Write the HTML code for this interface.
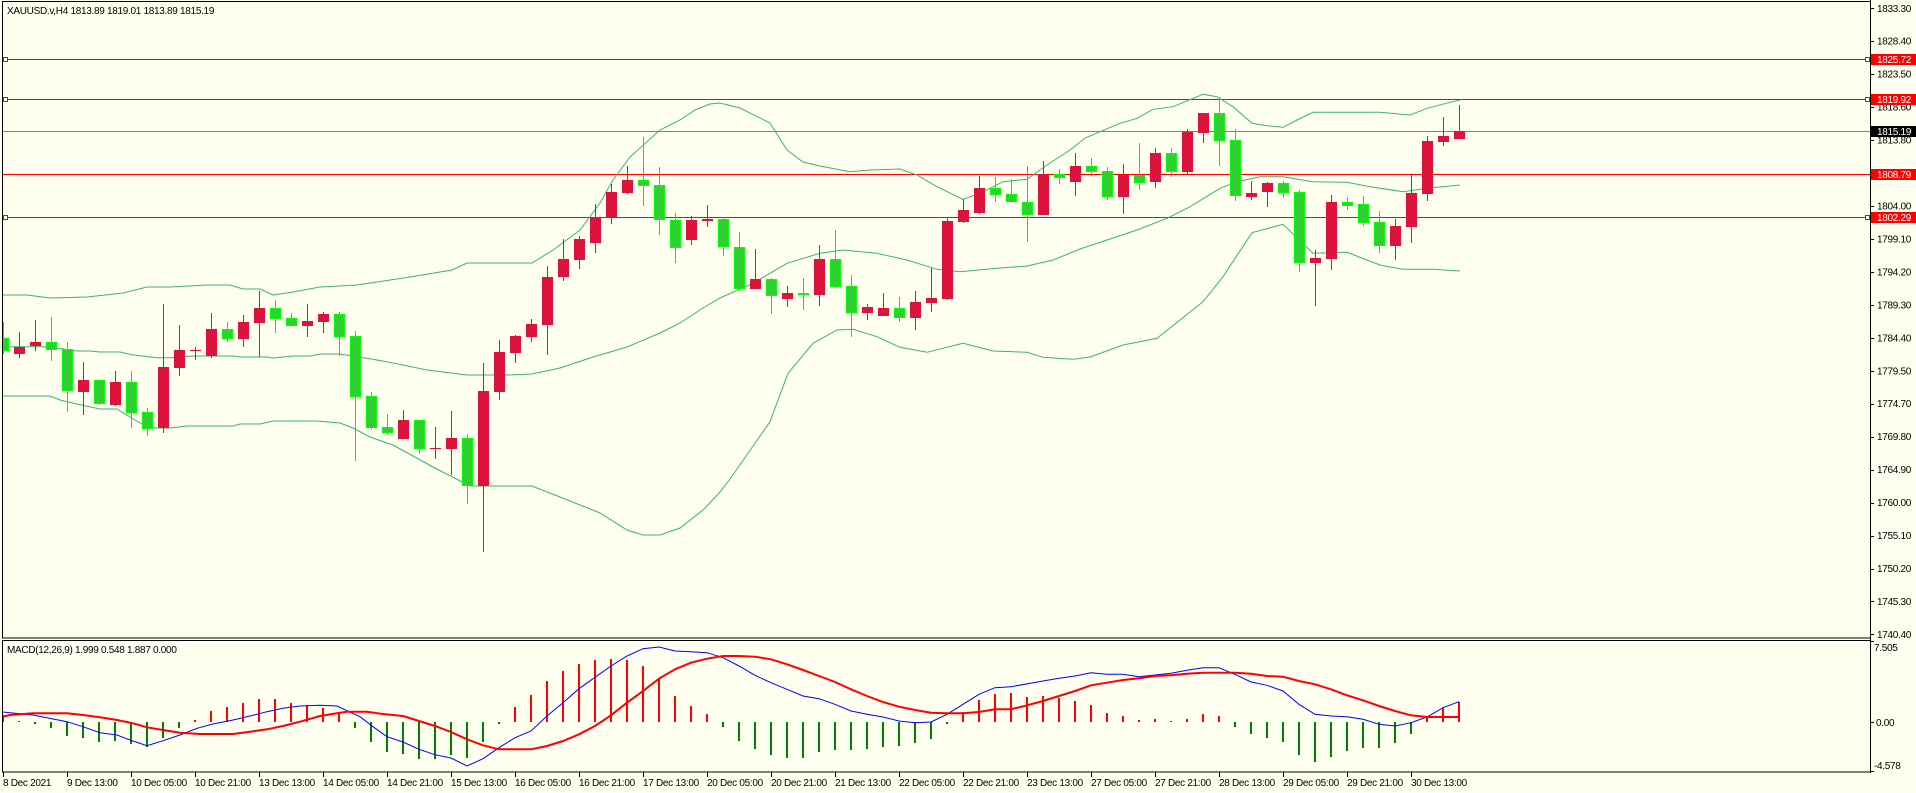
<!DOCTYPE html>
<html><head><meta charset="utf-8"><style>
html,body{margin:0;padding:0;background:#FFFFF0;}
svg{display:block;}
text{font-family:"Liberation Sans",sans-serif;font-size:10px;letter-spacing:-0.3px;fill:#000;}
</style></head><body>
<svg width="1916" height="793" viewBox="0 0 1916 793" xmlns="http://www.w3.org/2000/svg">
<defs>
<clipPath id="cm"><rect x="3" y="2" width="1867" height="636"/></clipPath>
<clipPath id="cd"><rect x="3" y="641" width="1867" height="131"/></clipPath>
</defs>
<rect width="1916" height="793" fill="#FFFFF0"/>
<g clip-path="url(#cm)">
<!-- horizontal lines -->
<g stroke="#FF0000" stroke-width="1" fill="none">
<line x1="3" y1="59.5" x2="1870" y2="59.5"/>
<line x1="3" y1="99.5" x2="1870" y2="99.5"/>
<line x1="3" y1="174.5" x2="1870" y2="174.5"/>
<line x1="3" y1="217.5" x2="1870" y2="217.5"/>
<rect x="3.5" y="57.5" width="4" height="4" fill="#FFFFF0"/>
<rect x="3.5" y="97.5" width="4" height="4" fill="#FFFFF0"/>
<rect x="3.5" y="215.5" width="4" height="4" fill="#FFFFF0"/>
<rect x="1865.5" y="57.5" width="4" height="4" fill="#FFFFF0"/>
<rect x="1865.5" y="97.5" width="4" height="4" fill="#FFFFF0"/>
<rect x="1865.5" y="215.5" width="4" height="4" fill="#FFFFF0"/>
</g>
<line x1="3" y1="131.5" x2="1870" y2="131.5" stroke="#808080" stroke-width="1"/>
<!-- Bollinger bands -->
<g stroke="#3CB371" stroke-width="1" fill="none">
<polyline points="0,295 27,295 50,298 87,297 123,293 147,287 170,287 207,285 230,285 243,289 260,289 273,295 293,292 320,287 357,285 370,283 410,277 452,270 467,263 532,263 553,250 580,230 600,203 613,180 630,157 660,130 680,120 695,110 710,104 720,103 740,108 770,123 787,150 803,162 820,166 850,171.7 870,170 900,169 917,175 937,186.7 963,199.3 980,193.3 1003,181.7 1027,179.3 1047,165 1070,150 1085,138 1100,131.7 1120,123.3 1137,118.3 1153,109.3 1173,106.7 1203,94.3 1217,96.7 1233,106.7 1252,123.3 1267,125.7 1283,127.3 1297,120 1313,112.3 1357,112.3 1380,112.3 1410,115 1427,108.3 1450,102.3 1460,100"/>
<polyline points="0,346.7 43,346.7 57,348 77,351 90,351 100,352 120,352 133,355 157,357.7 170,357.7 193,356 233,356 240,357 267,357 273,358 293,356 310,356 320,354 340,354 353,356 370,358.7 393,363 427,370 467,375 507,375 532,374 560,368 593,357 627,347 660,333 680,323 703,308 720,298 753,283.3 787,263.3 820,253.3 843,250 877,253.3 907,260 937,269.3 960,271.7 997,268.3 1027,266 1053,260 1080,249 1137,230 1167,218.3 1190,206.7 1220,188.3 1237,181.7 1260,176.7 1283,176.7 1313,181.7 1347,182.3 1370,186.7 1403,191.7 1427,188.3 1450,186 1460,185"/>
<polyline points="0,396 50,396 60,400 77,404 100,409 117,409 130,417 147,427 157,428 170,428 187,426 233,426 240,424 260,424 273,421 317,421 340,423 353,428 370,437 393,445 433,467 470,486 532,486 560,497 600,513 627,530 643,535 660,535 680,528 703,510 720,492 730,479 770,421.7 788,373.3 813,343.3 837,330 853,329.3 877,336.7 900,347.3 927,352.3 963,343.3 993,351 1027,352.3 1043,357.3 1073,359.3 1090,357 1123,345 1157,338.3 1203,301.7 1223,276.7 1252,232.7 1283,224.3 1313,253.3 1347,252.3 1380,265 1403,269.3 1433,269.3 1460,271"/>
</g>
<!-- red wicks -->
<path stroke="#DC143C" stroke-width="1" fill="none" d="M19.5 332V358M35.5 320V351M83.5 362V415M115.5 371V406M163.5 304V433M179.5 325V376M195.5 347V360M211.5 313V358M243.5 315V347M259.5 291V357M307.5 304V337M323.5 312V333M403.5 410V439M435.5 427V459M451.5 411V475M483.5 363V552M499.5 340V400M515.5 335V363M531.5 319V342M547.5 266V355M563.5 239V281M579.5 236V269M595.5 204V253M611.5 184V224M627.5 166V194M691.5 216V245M707.5 205V227M755.5 249V289M787.5 286V307M819.5 245V306M867.5 304V320M883.5 293V316M915.5 291V330M931.5 268V312M947.5 217V300M963.5 199V223M979.5 176V214M1043.5 161V215M1075.5 153V196M1123.5 164V214M1155.5 148V188M1187.5 129V174M1203.5 113V143M1251.5 181V200M1267.5 182V207M1315.5 250V306M1331.5 195V270M1395.5 219V260M1411.5 175V243M1427.5 136V201M1443.5 117V146M1459.5 105V139"/>
<!-- green wicks -->
<path stroke="#22DD22" stroke-width="1" fill="none" d="M3.5 322V354M51.5 317V361M67.5 342V412M99.5 380V405M131.5 371V428M147.5 408V436M227.5 322V342M275.5 300V333M291.5 313V327M339.5 312V356M355.5 331V461M371.5 392V430M387.5 414V435M419.5 420V454M467.5 434V504M643.5 137V206M659.5 167V235M675.5 213V263M723.5 217V256M739.5 232V291M771.5 278V314M803.5 278V310M835.5 230V288M851.5 275V337M899.5 297V322M995.5 177V202M1011.5 179V203M1027.5 166V242M1059.5 169V184M1091.5 158V176M1107.5 167V200M1139.5 143V190M1171.5 148V177M1219.5 97V166M1235.5 129V201M1283.5 181V198M1299.5 190V272M1347.5 197V210M1363.5 196V226M1379.5 211V253"/>
<!-- red bodies -->
<g fill="#DC143C">
<rect x="14" y="347" width="11" height="7"/>
<rect x="30" y="342" width="11" height="4"/>
<rect x="78" y="380" width="11" height="12"/>
<rect x="110" y="382" width="11" height="23"/>
<rect x="158" y="367" width="11" height="61"/>
<rect x="174" y="350" width="11" height="18"/>
<rect x="190" y="350" width="11" height="1"/>
<rect x="206" y="329" width="11" height="27"/>
<rect x="238" y="322" width="11" height="17"/>
<rect x="254" y="308" width="11" height="15"/>
<rect x="302" y="321" width="11" height="5"/>
<rect x="318" y="314" width="11" height="8"/>
<rect x="398" y="420" width="11" height="19"/>
<rect x="430" y="448" width="11" height="1"/>
<rect x="446" y="438" width="11" height="11"/>
<rect x="478" y="391" width="11" height="95"/>
<rect x="494" y="352" width="11" height="40"/>
<rect x="510" y="336" width="11" height="17"/>
<rect x="526" y="324" width="11" height="13"/>
<rect x="542" y="277" width="11" height="48"/>
<rect x="558" y="259" width="11" height="18"/>
<rect x="574" y="239" width="11" height="21"/>
<rect x="590" y="217" width="11" height="26"/>
<rect x="606" y="192" width="11" height="26"/>
<rect x="622" y="180" width="11" height="13"/>
<rect x="686" y="220" width="11" height="20"/>
<rect x="702" y="219" width="11" height="2"/>
<rect x="750" y="279" width="11" height="10"/>
<rect x="782" y="293" width="11" height="6"/>
<rect x="814" y="259" width="11" height="36"/>
<rect x="862" y="307" width="11" height="6"/>
<rect x="878" y="308" width="11" height="8"/>
<rect x="910" y="302" width="11" height="16"/>
<rect x="926" y="298" width="11" height="5"/>
<rect x="942" y="221" width="11" height="78"/>
<rect x="958" y="210" width="11" height="12"/>
<rect x="974" y="188" width="11" height="25"/>
<rect x="1038" y="174" width="11" height="41"/>
<rect x="1070" y="166" width="11" height="16"/>
<rect x="1118" y="175" width="11" height="22"/>
<rect x="1150" y="153" width="11" height="29"/>
<rect x="1182" y="132" width="11" height="40"/>
<rect x="1198" y="113" width="11" height="20"/>
<rect x="1246" y="193" width="11" height="4"/>
<rect x="1262" y="183" width="11" height="9"/>
<rect x="1310" y="258" width="11" height="5"/>
<rect x="1326" y="202" width="11" height="57"/>
<rect x="1390" y="226" width="11" height="20"/>
<rect x="1406" y="193" width="11" height="34"/>
<rect x="1422" y="141" width="11" height="53"/>
<rect x="1438" y="136" width="11" height="6"/>
<rect x="1454" y="131" width="11" height="8"/>
</g>
<!-- green bodies -->
<g fill="#32CD32" stroke="#00FF00" stroke-width="1">
<rect x="-1.5" y="338.5" width="10" height="12"/>
<rect x="46.5" y="342.5" width="10" height="7"/>
<rect x="62.5" y="349.5" width="10" height="41"/>
<rect x="94.5" y="380.5" width="10" height="23"/>
<rect x="126.5" y="382.5" width="10" height="30"/>
<rect x="142.5" y="412.5" width="10" height="16"/>
<rect x="222.5" y="329.5" width="10" height="9"/>
<rect x="270.5" y="308.5" width="10" height="10"/>
<rect x="286.5" y="318.5" width="10" height="7"/>
<rect x="334.5" y="314.5" width="10" height="22"/>
<rect x="350.5" y="336.5" width="10" height="60"/>
<rect x="366.5" y="396.5" width="10" height="31"/>
<rect x="382.5" y="427.5" width="10" height="5"/>
<rect x="414.5" y="420.5" width="10" height="28"/>
<rect x="462.5" y="438.5" width="10" height="47"/>
<rect x="638.5" y="180.5" width="10" height="5"/>
<rect x="654.5" y="185.5" width="10" height="34"/>
<rect x="670.5" y="220.5" width="10" height="27"/>
<rect x="718.5" y="219.5" width="10" height="27"/>
<rect x="734.5" y="247.5" width="10" height="41"/>
<rect x="766.5" y="279.5" width="10" height="16"/>
<rect x="798.5" y="293.5" width="10" height="1"/>
<rect x="830.5" y="259.5" width="10" height="27"/>
<rect x="846.5" y="286.5" width="10" height="26"/>
<rect x="894.5" y="308.5" width="10" height="9"/>
<rect x="990.5" y="188.5" width="10" height="6"/>
<rect x="1006.5" y="194.5" width="10" height="7"/>
<rect x="1022.5" y="202.5" width="10" height="12"/>
<rect x="1054.5" y="174.5" width="10" height="3"/>
<rect x="1086.5" y="166.5" width="10" height="5"/>
<rect x="1102.5" y="171.5" width="10" height="25"/>
<rect x="1134.5" y="175.5" width="10" height="7"/>
<rect x="1166.5" y="153.5" width="10" height="18"/>
<rect x="1214.5" y="113.5" width="10" height="27"/>
<rect x="1230.5" y="140.5" width="10" height="55"/>
<rect x="1278.5" y="183.5" width="10" height="9"/>
<rect x="1294.5" y="192.5" width="10" height="70"/>
<rect x="1342.5" y="202.5" width="10" height="3"/>
<rect x="1358.5" y="204.5" width="10" height="18"/>
<rect x="1374.5" y="222.5" width="10" height="23"/>
</g>
</g>
<!-- MACD -->
<g clip-path="url(#cd)">
<path stroke="#FF0000" stroke-width="2" fill="none" d="M3 722V715M19 722V721M195 722V720M211 722V711M227 722V707M243 722V703M259 722V699M275 722V699M291 722V703M307 722V706M323 722V708M339 722V713M515 722V707M531 722V695M547 722V681M563 722V671M579 722V664M595 722V660M611 722V659M627 722V660M643 722V666M659 722V679M675 722V696M691 722V706M707 722V714M963 722V712M979 722V700M995 722V694M1011 722V693M1027 722V697M1043 722V696M1059 722V698M1075 722V701M1091 722V705M1107 722V713M1123 722V716M1139 722V720M1155 722V719M1171 722V721M1187 722V719M1203 722V714M1219 722V716M1427 722V717M1443 722V708M1459 722V702"/>
<path stroke="#008000" stroke-width="2" fill="none" d="M35 722V724M51 722V728M67 722V736M83 722V738M99 722V742M115 722V741M131 722V744M147 722V747M163 722V738M179 722V728M355 722V728M371 722V742M387 722V752M403 722V754M419 722V759M435 722V759M451 722V755M467 722V758M483 722V742M499 722V724M723 722V727M739 722V741M755 722V749M771 722V755M787 722V758M803 722V758M819 722V752M835 722V750M851 722V750M867 722V749M883 722V747M899 722V746M915 722V743M931 722V739M947 722V724M1235 722V727M1251 722V734M1267 722V738M1283 722V742M1299 722V755M1315 722V762M1331 722V757M1347 722V751M1363 722V748M1379 722V748M1395 722V743M1411 722V734"/>
<polyline fill="none" stroke="#0000FF" stroke-width="1" points="3,712 10,712.7 33,715 67,721.7 83,726.7 100,732.7 117,735 130,740 147,745.7 163,740.7 180,735 197,728.3 213,724 233,720 250,716 267,711.7 283,708.3 300,706 320,705.3 337,706 347,710.7 360,716.7 373,726.7 387,736.7 403,742 419,749.3 435,754.7 451,758 467,766 483,758.7 499,747.7 515,737.7 531,731 547,716 563,702.7 579,688.7 595,677.3 611,666 627,656 643,648.7 659,647 675,651 691,651.7 707,652.7 723,657.7 739,666 755,675.3 771,682.7 787,689.3 803,696 819,698.7 835,704.3 851,711 867,714.3 883,717 899,721 915,722.7 931,722 947,714.3 963,704.3 979,694.3 995,687.7 1011,686.7 1043,681 1059,678.3 1075,676 1091,672.7 1107,674.3 1123,674.3 1139,676.7 1155,675 1171,673.3 1187,670.3 1203,667.7 1219,667.7 1235,674.3 1251,682 1267,685.3 1283,691 1299,704.3 1315,714.3 1331,716 1347,716.7 1363,719.3 1379,724.3 1395,726 1411,722.7 1427,717 1443,707.7 1459,701.7"/>
<polyline fill="none" stroke="#FF0000" stroke-width="2" points="3,716.7 10,715 33,713.3 67,713.3 83,715 100,717.3 117,720 133,723.3 147,727.3 163,730 180,732.7 200,734 233,734 250,731.7 267,729.3 283,726 300,721.7 320,716 337,713.3 347,711.7 367,711.7 383,714 403,716 419,721 435,726 451,732 467,739.3 483,745.3 499,749.3 515,749.3 531,749.3 547,746 563,741 579,734.3 595,726 611,715.3 627,702.7 643,691 659,678.7 675,669.3 691,662.7 707,658.7 723,656 739,656 755,656.7 771,659.3 787,664.3 803,670 819,676 835,682 851,689.3 867,696 883,702 899,706.7 915,710 931,712.7 947,713.3 963,713.3 979,712 995,709.3 1011,709.3 1027,705.3 1043,701 1059,696 1075,691 1091,685.3 1107,682.7 1123,680 1139,678.3 1155,676 1171,675.3 1187,673.7 1203,672.7 1235,672.7 1251,673.7 1267,676 1283,676.7 1299,681 1315,684.3 1331,689.3 1347,695.3 1363,700.3 1379,706 1395,711 1411,715.3 1427,717 1459,717"/>
</g>
<!-- frames -->
<g fill="none" stroke="#000" stroke-width="1">
<rect x="2.5" y="1.5" width="1868" height="636.5"/>
<rect x="2.5" y="640.5" width="1868" height="131.5"/>
<line x1="1870.5" y1="0" x2="1870.5" y2="773"/>
</g>
<!-- price axis ticks -->
<path stroke="#000" stroke-width="1" d="M1870 8.5H1874M1870 41.5H1874M1870 74.5H1874M1870 107.5H1874M1870 140.5H1874M1870 173.5H1874M1870 206.5H1874M1870 239.5H1874M1870 272.5H1874M1870 305.5H1874M1870 338.5H1874M1870 371.5H1874M1870 404.5H1874M1870 437.5H1874M1870 470.5H1874M1870 503.5H1874M1870 536.5H1874M1870 569.5H1874M1870 601.5H1874M1870 634.5H1874M1870 641.5H1874M1870 722.5H1874M1870 771.5H1874"/>
<g>
<text x="1877" y="11.8">1833.30</text>
<text x="1877" y="44.7">1828.40</text>
<text x="1877" y="77.7">1823.50</text>
<text x="1877" y="110.7">1818.60</text>
<text x="1877" y="143.6">1813.80</text>
<text x="1877" y="209.5">1804.00</text>
<text x="1877" y="242.5">1799.10</text>
<text x="1877" y="275.5">1794.20</text>
<text x="1877" y="308.4">1789.30</text>
<text x="1877" y="341.3">1784.40</text>
<text x="1877" y="374.3">1779.50</text>
<text x="1877" y="407.2">1774.70</text>
<text x="1877" y="440.2">1769.80</text>
<text x="1877" y="473.1">1764.90</text>
<text x="1877" y="506.1">1760.00</text>
<text x="1877" y="539">1755.10</text>
<text x="1877" y="572">1750.20</text>
<text x="1877" y="604.9">1745.30</text>
<text x="1877" y="637.9">1740.40</text>
</g>
<!-- price label boxes -->
<rect x="1871" y="54" width="45" height="11" fill="#FF0000"/>
<text x="1877" y="63" style="fill:#fff">1825.72</text>
<rect x="1871" y="94" width="45" height="11" fill="#FF0000"/>
<text x="1877" y="103" style="fill:#fff">1819.92</text>
<rect x="1871" y="126" width="45" height="11" fill="#000"/>
<text x="1877" y="135" style="fill:#fff">1815.19</text>
<rect x="1871" y="169" width="45" height="11" fill="#FF0000"/>
<text x="1877" y="178" style="fill:#fff">1808.79</text>
<rect x="1871" y="212" width="45" height="11" fill="#FF0000"/>
<text x="1877" y="221" style="fill:#fff">1802.29</text>
<!-- macd axis -->
<text x="1874" y="651">7.505</text>
<text x="1876" y="726">0.00</text>
<text x="1874" y="769">-4.578</text>
<!-- titles -->
<text x="7" y="14">XAUUSD.v,H4  1813.89 1819.01 1813.89 1815.19</text>
<text x="7" y="653">MACD(12,26,9) 1.999 0.548 1.887 0.000</text>
<!-- time axis -->
<path stroke="#000" stroke-width="1" d="M3.5 772V777M67.5 772V777M131.5 772V777M195.5 772V777M259.5 772V777M323.5 772V777M387.5 772V777M451.5 772V777M515.5 772V777M579.5 772V777M643.5 772V777M707.5 772V777M771.5 772V777M835.5 772V777M899.5 772V777M963.5 772V777M1027.5 772V777M1091.5 772V777M1155.5 772V777M1219.5 772V777M1283.5 772V777M1347.5 772V777M1411.5 772V777"/>
<g>
<text x="3" y="786">8 Dec 2021</text>
<text x="67" y="786">9 Dec 13:00</text>
<text x="131" y="786">10 Dec 05:00</text>
<text x="195" y="786">10 Dec 21:00</text>
<text x="259" y="786">13 Dec 13:00</text>
<text x="323" y="786">14 Dec 05:00</text>
<text x="387" y="786">14 Dec 21:00</text>
<text x="451" y="786">15 Dec 13:00</text>
<text x="515" y="786">16 Dec 05:00</text>
<text x="579" y="786">16 Dec 21:00</text>
<text x="643" y="786">17 Dec 13:00</text>
<text x="707" y="786">20 Dec 05:00</text>
<text x="771" y="786">20 Dec 21:00</text>
<text x="835" y="786">21 Dec 13:00</text>
<text x="899" y="786">22 Dec 05:00</text>
<text x="963" y="786">22 Dec 21:00</text>
<text x="1027" y="786">23 Dec 13:00</text>
<text x="1091" y="786">27 Dec 05:00</text>
<text x="1155" y="786">27 Dec 21:00</text>
<text x="1219" y="786">28 Dec 13:00</text>
<text x="1283" y="786">29 Dec 05:00</text>
<text x="1347" y="786">29 Dec 21:00</text>
<text x="1411" y="786">30 Dec 13:00</text>
</g>
</svg>
</body></html>
